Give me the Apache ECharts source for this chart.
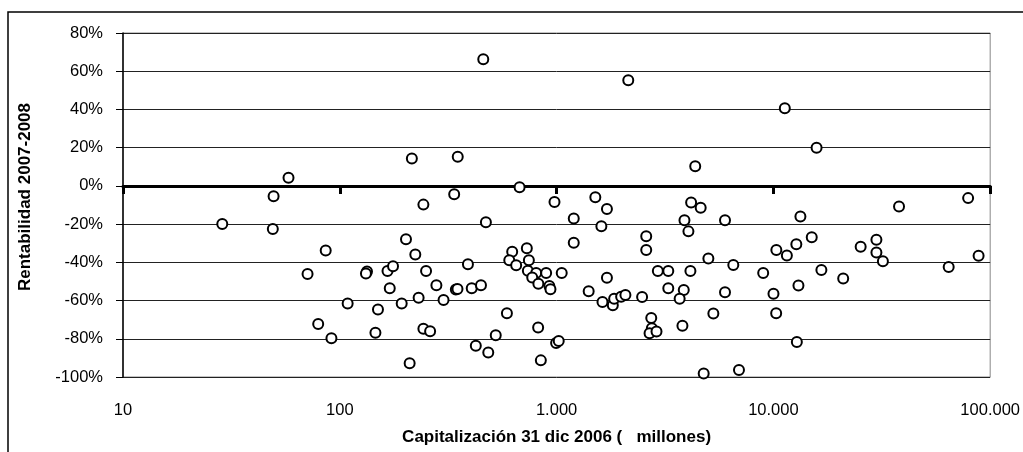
<!DOCTYPE html>
<html>
<head>
<meta charset="utf-8">
<script src="https://cdn.jsdelivr.net/npm/echarts@6/dist/echarts.min.js"></script>
<style>
html,body{margin:0;padding:0;background:#fff;}
#chart{width:1023px;height:452px;}
</style>
</head>
<body>
<div id="chart"></div>
<script>
// Capitalización 31 dic 2006 (millones)
const capitalizacion = [
  28.7, 49.5, 58.0, 49.1, 86.1, 71.0, 79.5, 91.5, 215, 350,
  337, 243, 472, 202, 223, 390, 133.5, 132, 166, 176,
  250, 170, 279, 343, 349, 406, 448, 108.7, 150, 193,
  231, 301, 590, 146, 243, 261, 524, 424, 484, 210,
  459, 2141, 675, 978, 1509, 1707, 1200, 1609, 2591, 2591,
  1200, 624, 729, 605, 745, 651, 737, 805, 895, 1056,
  772, 824, 926, 937, 822, 995, 1023, 846, 1406, 1707,
  1628, 1817, 1843, 1985, 2077, 2480, 2931, 3275, 3275, 2733,
  2750, 2684, 2890, 4360, 15820, 11290, 4174, 4620, 3889, 4056,
  5982, 13325, 15030, 12760, 10320, 11540, 5013, 6534, 4143, 8974,
  16650, 20990, 3860, 3695, 5982, 10010, 13050, 5286, 10300, 3806,
  12830, 4770, 6939, 79120, 37980, 29870, 25270, 29870, 32000, 88420,
  64360
];
// Rentabilidad 2007-2008 (%)
const rentabilidad = [
  -19.9, -5.4, 4.2, -22.5, -33.8, -46.1, -72.3, -79.7, 14.3, 15.2,
  -4.4, -9.8, -19.0, -27.9, -35.9, -41.0, -44.8, -45.9, -44.5, -42.1,
  -44.5, -53.6, -52.0, -54.2, -53.9, -53.6, -52.0, -61.6, -64.7, -61.6,
  -58.5, -59.7, -66.7, -76.8, -74.7, -76.1, -78.2, -83.6, -87.2, -92.8,
  66.3, 55.3, -0.7, -8.4, -5.9, -12.1, -17.1, -21.1, -26.4, -33.6,
  -29.8, -34.5, -32.6, -38.9, -38.9, -41.5, -44.4, -45.6, -45.6, -45.6,
  -47.9, -51.2, -52.4, -54.1, -74.1, -82.2, -81.2, -91.3, -55.1, -48.1,
  -60.7, -62.5, -59.0, -58.0, -57.1, -58.1, -44.5, -44.5, -53.6, -69.1,
  -74.5, -77.1, -76.2, 10.3, 19.9, 40.6, -8.7, -11.4, -18.0, -23.8,
  -18.0, -16.0, -26.9, -30.5, -33.6, -36.4, -38.0, -41.4, -44.5, -45.6,
  -44.0, -48.5, -54.5, -59.1, -55.6, -56.4, -52.1, -66.8, -66.6, -73.2,
  -81.7, -98.2, -96.3, -6.4, -10.8, -28.2, -31.8, -34.9, -39.4, -36.5,
  -42.5
];
const xTickLabels = ['10', '100', '1.000', '10.000', '100.000'];
const xTitle = 'Capitalización 31 dic 2006 (   millones)';
const yTitle = 'Rentabilidad 2007-2008';

const points = capitalizacion.map((c, i) => [c, rentabilidad[i]]);
const FONT = '"Liberation Sans", Arial, sans-serif';

const chart = echarts.init(document.getElementById('chart'), null, {renderer: 'canvas'});
chart.setOption({
  animation: false,
  backgroundColor: '#fff',
  grid: {
    left: 123, top: 33, width: 870, height: 344,
    show: true, borderColor: '#888', borderWidth: 1, backgroundColor: 'transparent'
  },
  xAxis: [
    {
      type: 'log', logBase: 10, min: 10, max: 100000,
      position: 'bottom',
      axisLine: {onZero: false, show: false},
      axisTick: {show: false},
      splitLine: {show: false},
      axisLabel: {
        margin: 25, color: '#000', fontSize: 16.5, fontFamily: FONT,
        formatter: v => xTickLabels[Math.round(Math.log10(v)) - 1]
      },
      name: xTitle, nameLocation: 'middle', nameGap: 52,
      nameTextStyle: {color: '#000', fontSize: 17, fontWeight: 'bold', fontFamily: FONT}
    },
    {
      type: 'log', logBase: 10, min: 10, max: 100000,
      position: 'top',
      axisLine: {show: true, onZero: true, lineStyle: {color: '#000', width: 3.2}},
      axisTick: {show: true, inside: true, length: 8, lineStyle: {color: '#000', width: 3}},
      axisLabel: {show: false},
      splitLine: {show: false}
    }
  ],
  yAxis: {
    type: 'value', min: -100, max: 80, interval: 20,
    axisLine: {show: true, lineStyle: {color: '#000', width: 1.5}},
    axisTick: {show: true, length: 7, lineStyle: {color: '#000', width: 1}},
    splitLine: {show: true, lineStyle: {color: '#222', width: 1}},
    axisLabel: {
      margin: 20, color: '#000', fontSize: 16.5, fontFamily: FONT,
      formatter: v => v + '%'
    }
  },
  graphic: [
    {
      type: 'rect', silent: true, z: -1,
      shape: {x: 8, y: 12, width: 1100, height: 500},
      style: {fill: 'none', stroke: '#000', lineWidth: 1.5}
    },
    {
      type: 'text', x: 25, y: 197, rotation: Math.PI / 2,
      style: {
        text: yTitle, fill: '#000', font: 'bold 17px ' + FONT,
        textAlign: 'center', textVerticalAlign: 'middle'
      }
    }
  ],
  series: [{
    type: 'scatter',
    xAxisIndex: 0,
    data: points,
    symbol: 'circle',
    symbolSize: 10,
    itemStyle: {color: '#fff', borderColor: '#000', borderWidth: 2, opacity: 1}
  }]
});
</script>
</body>
</html>
